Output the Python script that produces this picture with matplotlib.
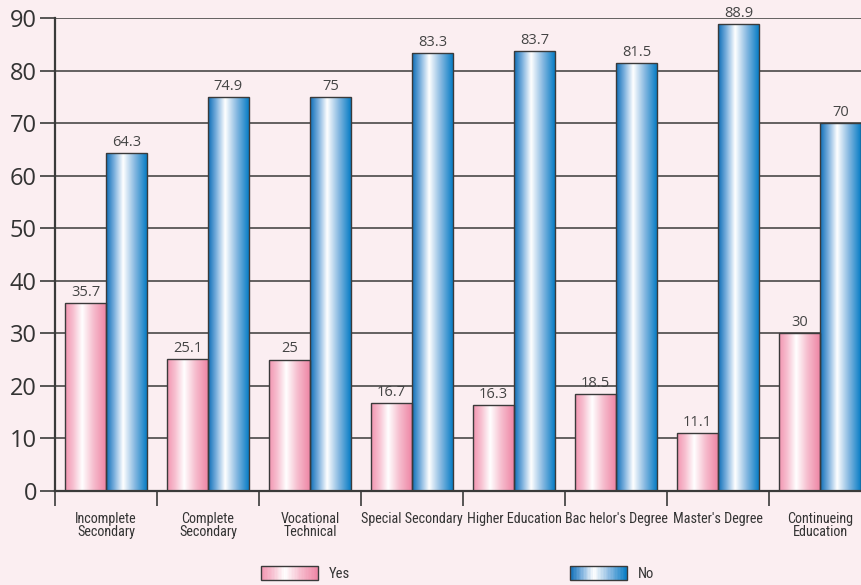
import numpy as np
import matplotlib
matplotlib.use("Agg")
import matplotlib.pyplot as plt
from matplotlib.colors import LinearSegmentedColormap
from matplotlib.patches import Rectangle
from matplotlib.legend_handler import HandlerBase
from matplotlib import font_manager as fm

categories = ["Incomplete\nSecondary", "Complete\nSecondary", "Vocational\nTechnical",
              "Special Secondary", "Higher Education", "Bac helor's Degree",
              "Master's Degree", "Continueing\nEducation"]
yes_vals = [35.7, 25.1, 25, 16.7, 16.3, 18.5, 11.1, 30]
no_vals = [64.3, 74.9, 75, 83.3, 83.7, 81.5, 88.9, 70]
yticks = [0, 10, 20, 30, 40, 50, 60, 70, 80, 90]

names = sorted({f.name for f in fm.fontManager.ttflist})
cond_files = [f for f in fm.fontManager.ttflist if f.name == "DejaVu Sans" and f.stretch == "condensed" and f.weight in (400, "normal")]
narrow = None
for cand in ["Liberation Sans Narrow", "Roboto Condensed", "Open Sans Condensed", "DejaVu Sans Condensed"]:
    if cand in names:
        narrow = fm.FontProperties(family=cand)
        break
if narrow is None and cond_files:
    narrow = fm.FontProperties(fname=cond_files[0].fname)
if narrow is None:
    narrow = fm.FontProperties(family="DejaVu Sans")

BG = "#fbeef1"
pink_cmap = LinearSegmentedColormap.from_list(
    "pink", [(0, "#f294b0"), (0.2, "#f7c0d0"), (0.42, "#ffffff"), (0.7, "#f6bccd"), (1, "#ee86a5")])
blue_cmap = LinearSegmentedColormap.from_list(
    "blue", [(0, "#0a6cb6"), (0.2, "#7aafdd"), (0.42, "#ffffff"), (0.7, "#88b9e1"), (1, "#077dc5")])

fig = plt.figure(figsize=(8.62, 5.85), dpi=100, facecolor=BG)
ax = fig.add_axes([55/862, 94/585, 816/862, 473/585])
ax.set_facecolor(BG)

x = np.arange(len(categories))
w = 0.4
grad = np.linspace(0, 1, 256).reshape(1, -1)

def gradient_bars(xpos, vals, cmap):
    bars = ax.bar(xpos, vals, width=w, facecolor="none", edgecolor="#3a3a3a",
                  linewidth=1.0, zorder=3)
    for b in bars:
        x0, y0 = b.get_x(), b.get_y()
        im = ax.imshow(grad, cmap=cmap, extent=[x0, x0 + b.get_width(), y0, y0 + b.get_height()],
                       aspect="auto", zorder=2, interpolation="bilinear")
        im.set_clip_path(b)
    return bars

yb = gradient_bars(x - w/2, yes_vals, pink_cmap)
nb = gradient_bars(x + w/2, no_vals, blue_cmap)

for xs, vals in ((x - w/2, yes_vals), (x + w/2, no_vals)):
    for xi, v in zip(xs, vals):
        ax.text(xi, v + 0.6, f"{v:g}", ha="center", va="bottom", fontsize=10.5,
                color="#444444", family=["Open Sans", "DejaVu Sans"])

ax.set_xlim(-0.5, len(categories) - 0.5)
ax.set_ylim(0, 90)
ax.set_yticks(yticks)
ax.set_yticklabels([str(t) for t in yticks], fontsize=17, color="#333333",
                   family=["Open Sans", "DejaVu Sans"])
ax.yaxis.grid(True, color="#3a3a3a", linewidth=1.1, zorder=0)
ax.set_axisbelow(True)
ax.tick_params(axis="y", length=11, width=1.2, color="#3a3a3a", pad=2)

ax.set_xticks(np.arange(len(categories) + 1) - 0.5)
ax.set_xticklabels([])
ax.tick_params(axis="x", length=11, width=1.2, color="#3a3a3a")
lab_fp = narrow.copy()
lab_fp.set_size(10.2)
for xi, c in zip(x, categories):
    ax.text(xi, -4.0, c, ha="center", va="top", fontproperties=lab_fp, color="#333333",
            linespacing=0.95, transform=ax.transData, clip_on=False)

for s in ("top", "right"):
    ax.spines[s].set_visible(False)
for s in ("left", "bottom"):
    ax.spines[s].set_color("#3a3a3a")
    ax.spines[s].set_linewidth(1.6)

class GradHandler(HandlerBase):
    def __init__(self, cmap):
        super().__init__()
        self.cmap = cmap
    def create_artists(self, legend, orig_handle, xdescent, ydescent, width, height, fontsize, trans):
        arts = []
        n = 40
        for i in range(n):
            r = Rectangle((-xdescent + width * i / n, -ydescent), width / n + 0.3, height,
                          facecolor=self.cmap((i + 0.5) / n), edgecolor="none", transform=trans)
            arts.append(r)
        arts.append(Rectangle((-xdescent, -ydescent), width, height, facecolor="none",
                              edgecolor="#3a3a3a", linewidth=1.0, transform=trans))
        return arts

leg_fp = narrow.copy()
leg_fp.set_size(10.5)
for label, cmap, xpx in (("Yes", pink_cmap, 261), ("No", blue_cmap, 570)):
    h = Rectangle((0, 0), 1, 1)
    leg = fig.legend([h], [label], loc="center left",
                     bbox_to_anchor=(xpx/862, 1 - 573.5/585), frameon=False,
                     handler_map={h: GradHandler(cmap)}, borderpad=0, borderaxespad=0,
                     handlelength=3.9, handleheight=1.15, handletextpad=0.75, prop=leg_fp)
    for t in leg.get_texts():
        t.set_color("#333333")

fig.savefig("out.png", dpi=100, facecolor=BG)
